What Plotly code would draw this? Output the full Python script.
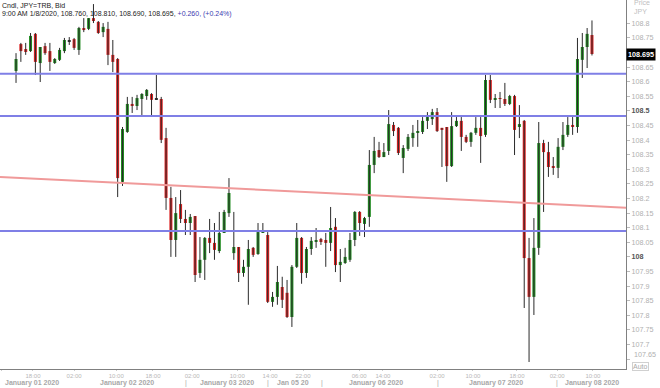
import plotly.graph_objects as go

# ---- data (hourly candles, JPY=TRB, Bid) ----
opens = [108.637, 108.729, 108.712, 108.705, 108.764, 108.664, 108.722, 108.705, 108.664, 108.675,
         108.705, 108.740, 108.746, 108.709, 108.784, 108.781, 108.818, 108.805, 108.770, 108.781,
         108.692, 108.678, 108.257, 108.428, 108.524, 108.517, 108.541, 108.551, 108.558, 108.541,
         108.541, 108.407, 108.202, 108.058, 108.181, 108.130, 108.116, 108.140, 107.945, 107.990,
         108.065, 108.048, 108.020, 108.082, 108.150, 108.013, 108.034, 107.945, 107.966, 108.031,
         108.010, 108.082, 108.075, 107.846, 107.863, 107.897, 107.877, 107.794, 107.966, 108.065,
         107.945, 108.027, 108.051, 108.061, 108.058, 108.048, 108.103, 107.972, 107.979, 107.990,
         108.058, 108.154, 108.113, 108.137, 108.315, 108.366, 108.342, 108.363, 108.452, 108.442,
         108.339, 108.370, 108.407, 108.425, 108.428, 108.466, 108.472, 108.496, 108.442, 108.445,
         108.311, 108.448, 108.466, 108.411, 108.394, 108.425, 108.442, 108.418, 108.606, 108.538,
         108.544, 108.541, 108.524, 108.551, 108.445, 108.466, 107.996, 107.863, 108.031, 108.390,
         108.359, 108.308, 108.305, 108.377, 108.418, 108.452, 108.445, 108.675, 108.719, 108.760]
highs = [108.698, 108.733, 108.733, 108.767, 108.767, 108.719, 108.733, 108.733, 108.681, 108.716,
         108.750, 108.753, 108.750, 108.788, 108.818, 108.818, 108.866, 108.808, 108.801, 108.805,
         108.743, 108.681, 108.445, 108.548, 108.548, 108.555, 108.561, 108.575, 108.561, 108.623,
         108.548, 108.442, 108.240, 108.205, 108.229, 108.161, 108.147, 108.140, 108.068, 108.068,
         108.130, 108.116, 108.154, 108.161, 108.270, 108.154, 108.034, 107.990, 108.058, 108.034,
         108.116, 108.116, 108.085, 107.880, 107.969, 107.932, 107.921, 107.972, 108.116, 108.068,
         108.034, 108.068, 108.099, 108.065, 108.082, 108.171, 108.133, 108.027, 108.031, 108.082,
         108.157, 108.157, 108.137, 108.366, 108.411, 108.394, 108.390, 108.503, 108.462, 108.445,
         108.383, 108.421, 108.452, 108.469, 108.479, 108.496, 108.507, 108.510, 108.442, 108.445,
         108.496, 108.479, 108.479, 108.418, 108.428, 108.479, 108.479, 108.623, 108.623, 108.558,
         108.565, 108.596, 108.555, 108.555, 108.520, 108.469, 108.065, 108.133, 108.462, 108.401,
         108.394, 108.342, 108.407, 108.462, 108.479, 108.479, 108.750, 108.767, 108.784, 108.810]
lows = [108.596, 108.668, 108.692, 108.702, 108.623, 108.599, 108.692, 108.637, 108.661, 108.671,
        108.698, 108.726, 108.709, 108.692, 108.770, 108.777, 108.801, 108.764, 108.753, 108.657,
        108.633, 108.205, 108.243, 108.425, 108.493, 108.503, 108.486, 108.538, 108.486, 108.538,
        108.390, 108.161, 108.000, 108.000, 108.116, 108.075, 108.075, 107.914, 107.928, 107.921,
        108.013, 107.990, 108.013, 108.082, 108.137, 107.990, 107.914, 107.932, 107.836, 108.000,
        108.007, 108.082, 107.842, 107.829, 107.836, 107.825, 107.791, 107.760, 107.962, 107.908,
        107.928, 108.007, 108.031, 108.041, 107.966, 108.020, 107.948, 107.914, 107.976, 107.983,
        108.037, 108.072, 108.068, 108.103, 108.287, 108.339, 108.342, 108.349, 108.414, 108.349,
        108.287, 108.363, 108.377, 108.377, 108.421, 108.438, 108.452, 108.428, 108.308, 108.257,
        108.308, 108.445, 108.363, 108.390, 108.377, 108.418, 108.322, 108.411, 108.527, 108.510,
        108.510, 108.517, 108.520, 108.349, 108.407, 107.825, 107.640, 107.801, 108.007, 108.154,
        108.274, 108.281, 108.270, 108.366, 108.411, 108.418, 108.425, 108.613, 108.647, 108.690]
closes = [108.678, 108.705, 108.702, 108.757, 108.668, 108.719, 108.698, 108.668, 108.678, 108.709,
          108.743, 108.740, 108.716, 108.784, 108.777, 108.818, 108.808, 108.767, 108.788, 108.692,
          108.668, 108.270, 108.438, 108.524, 108.517, 108.544, 108.558, 108.572, 108.538, 108.541,
          108.401, 108.202, 108.058, 108.150, 108.130, 108.116, 108.137, 107.938, 107.990, 108.065,
          108.048, 108.024, 108.082, 108.154, 108.219, 108.034, 107.945, 107.966, 108.027, 108.007,
          108.085, 108.092, 107.846, 107.863, 107.914, 107.853, 107.794, 107.966, 108.065, 107.945,
          108.027, 108.055, 108.058, 108.051, 108.048, 108.099, 107.972, 107.983, 108.000, 108.058,
          108.154, 108.116, 108.133, 108.315, 108.363, 108.342, 108.359, 108.455, 108.431, 108.356,
          108.373, 108.411, 108.425, 108.431, 108.466, 108.479, 108.496, 108.431, 108.435, 108.311,
          108.448, 108.466, 108.411, 108.394, 108.425, 108.442, 108.414, 108.606, 108.538, 108.544,
          108.541, 108.524, 108.551, 108.435, 108.455, 107.996, 107.863, 108.031, 108.390, 108.359,
          108.308, 108.305, 108.377, 108.418, 108.452, 108.445, 108.678, 108.719, 108.764, 108.695]

level_lines = [108.627, 108.483, 108.089]      # horizontal blue lines
trend_line = [108.274, 108.168]                # red line, left edge -> right edge

# time tick labels (positions are candle indices)
time_tick_pos = [-2.9, 3.5, 12.0, 20.7, 28.3, 36.4, 45.7, 52.5, 59.3, 70.9, 75.8, 87.0, 94.4, 103.5, 111.8, 119.2]
time_tick_text = ["10:00", "18:00", "02:00", "10:00", "18:00", "02:00", "10:00", "14:00", "22:00",
                  "06:00", "14:00", "02:00", "10:00", "18:00", "02:00", "10:00"]
date_pos = [3.3, 22.9, 35.1, 43.6, 52.1, 57.2, 63.2, 74.4, 87.2, 99.2, 111.8, 119.0]
date_text = ["January 01 2020", "January 02 2020", "|", "January 03 2020", "|", "Jan 05 20", "|",
             "January 06 2020", "|", "January 07 2020", "|", "January 08 2020"]

price_ticks = [107.65, 107.7, 107.75, 107.8, 107.85, 107.9, 107.95, 108.0, 108.05, 108.1, 108.15,
               108.2, 108.25, 108.3, 108.35, 108.4, 108.45, 108.5, 108.55, 108.6, 108.65, 108.75, 108.8]
price_tick_text = ["107.65", "107.7", "107.75", "107.8", "107.85", "107.9", "107.95", "108", "108.05",
                   "108.1", "108.15", "108.2", "108.25", "108.3", "108.35", "108.4", "108.45", "108.5",
                   "108.55", "108.6", "108.65", "108.75", "108.8"]
bold_ticks = ["108", "108.5"]
crowded_tick = "107.65"        # drawn nudged up, clear of the "Auto" box
last_price = 108.695

# ---- figure ----
RED = "#dc2020"
GREEN = "#1f8a1f"
DOJI = "#333333"
FONT = "Liberation Sans"

n = len(opens)
xs = list(range(n))

wx, wy = [], []
for i in xs:
    wx += [i, i, None]
    wy += [lows[i], highs[i], None]

bases, heights, colors = [], [], []
for o, c in zip(opens, closes):
    lo, hi = min(o, c), max(o, c)
    h = hi - lo
    if h < 0.003:
        mid = (lo + hi) / 2
        lo = mid - 0.0015
        h = 0.003
    bases.append(lo)
    heights.append(h)
    colors.append(GREEN if c > o else (RED if c < o else DOJI))

fig = go.Figure()
fig.add_trace(go.Scatter(x=wx, y=wy, mode="lines", line=dict(color="#2a2a2a", width=1),
                         hoverinfo="skip", showlegend=False))
fig.add_trace(go.Bar(x=xs, y=heights, base=bases, width=0.62,
                     marker=dict(color=colors, line=dict(width=0)),
                     hoverinfo="skip", showlegend=False))

shapes = []
for lv in level_lines:
    shapes.append(dict(type="line", xref="paper", x0=0, x1=1, yref="y", y0=lv, y1=lv,
                       line=dict(color="#7f7fe6", width=2), layer="above"))
shapes.append(dict(type="line", xref="paper", x0=0, x1=1, yref="y", y0=trend_line[0], y1=trend_line[1],
                   line=dict(color="#f09a9a", width=2), layer="above"))

ticktext = []
for t in price_tick_text:
    if t in bold_ticks:
        ticktext.append("<b><span style='color:#555555'>%s</span></b>" % t)
    elif t == crowded_tick:
        ticktext.append("")
    else:
        ticktext.append(t)

annotations = []
for p, t in zip(date_pos, date_text):
    annotations.append(dict(x=p, xref="x", y=-0.037, yref="paper", text=t if t == "|" else "<b>%s</b>" % t,
                            showarrow=False, xanchor="center", yanchor="middle",
                            font=dict(family=FONT, size=7, color="#a8a8a8")))
annotations += [
    dict(x=0, xref="paper", y=0.986, yref="paper", text="Cndl, JPY=TRB, Bid", showarrow=False,
         xanchor="left", yanchor="middle", font=dict(family=FONT, size=7, color="#222222")),
    dict(x=0, xref="paper", y=0.961, yref="paper",
         text="9:00 AM 1/8/2020, 108.760, 108.810, 108.690, 108.695, "
              "<span style='color:#3b3bb0'>+0.260, (+0.24%)</span>",
         showarrow=False, xanchor="left", yanchor="middle",
         font=dict(family=FONT, size=7, color="#222222")),
    dict(x=1.0096, xref="paper", y=0.993, yref="paper", text="Price", showarrow=False,
         xanchor="left", yanchor="middle", font=dict(family=FONT, size=7, color="#c0c0c0")),
    dict(x=1.0096, xref="paper", y=0.969, yref="paper", text="JPY", showarrow=False,
         xanchor="left", yanchor="middle", font=dict(family=FONT, size=7, color="#c0c0c0")),
    dict(x=1.0, xref="paper", y=last_price, yref="y", text="<b>108.695</b>", showarrow=False,
         xanchor="left", yanchor="middle", bgcolor="#000000", borderpad=1,
         font=dict(family=FONT, size=7.2, color="#ffffff")),
    dict(x=1.0096, xref="paper", y=0.039, yref="paper", text=crowded_tick, showarrow=False,
         xanchor="left", yanchor="middle", font=dict(family=FONT, size=7.2, color="#b0b0b0")),
    dict(x=1.0096, xref="paper", y=0.008, yref="paper", text="Auto", showarrow=False,
         xanchor="left", yanchor="middle", bordercolor="#d0d0d0", borderwidth=1, borderpad=0,
         font=dict(family=FONT, size=7, color="#a8a8a8")),
]

fig.update_layout(
    width=660, height=388,
    margin=dict(l=0, r=34, t=0, b=19),
    paper_bgcolor="white", plot_bgcolor="white",
    showlegend=False, hovermode=False,
    shapes=shapes, annotations=annotations,
    xaxis=dict(range=[-3.31, 126.03], showgrid=False, zeroline=False, showline=True,
               linecolor="#808080", linewidth=1, tickmode="array", tickvals=time_tick_pos,
               ticktext=time_tick_text, ticks="outside", ticklen=1, tickcolor="#cccccc",
               tickfont=dict(family=FONT, size=6, color="#b8b8b8")),
    yaxis=dict(range=[107.616, 108.880], side="right", showgrid=False, zeroline=False,
               showline=True, linecolor="#808080", linewidth=1, tickmode="array",
               tickvals=price_ticks, ticktext=ticktext, ticks="outside", ticklen=3,
               tickcolor="#bbbbbb", tickfont=dict(family=FONT, size=7.2, color="#b0b0b0")),
)

fig.write_html("out.html", config={"displayModeBar": False})
